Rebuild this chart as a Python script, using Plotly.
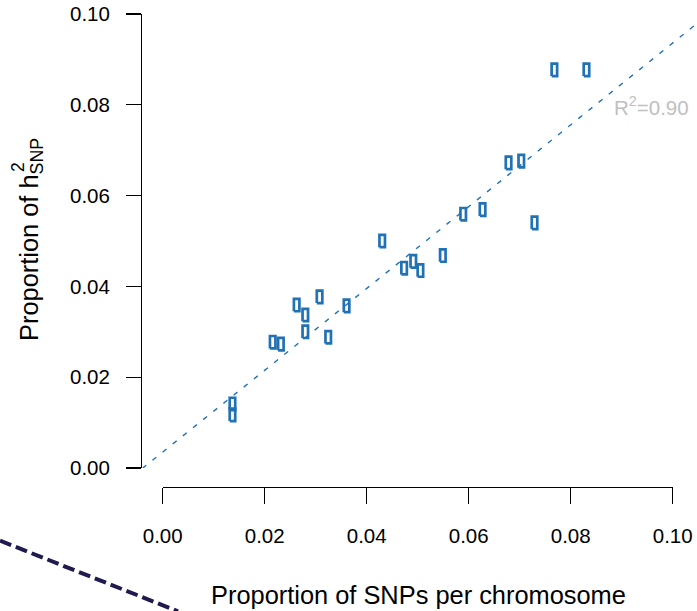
import plotly.graph_objects as go

# ---------------- data ----------------
snp_prop = [0.0137, 0.0137, 0.0216, 0.0232, 0.0263, 0.0280, 0.0280, 0.0308,
            0.0325, 0.0361, 0.0431, 0.0474, 0.0492, 0.0506, 0.0550, 0.0590,
            0.0628, 0.0679, 0.0704, 0.0730, 0.0769, 0.0832]
h2_prop = [0.0141, 0.0117, 0.0277, 0.0273, 0.0359, 0.0337, 0.0300, 0.0377,
           0.0288, 0.0357, 0.0500, 0.0440, 0.0455, 0.0435, 0.0468, 0.0559,
           0.0569, 0.0672, 0.0676, 0.0540, 0.0877, 0.0877]
fit_intercept = 0.0035
fit_slope = 0.90
r2_text = "R<sup>2</sup>=0.90"
tick_vals = [0.00, 0.02, 0.04, 0.06, 0.08, 0.10]
tick_text = ["0.00", "0.02", "0.04", "0.06", "0.08", "0.10"]
x_title = "Proportion of SNPs per chromosome"
y_title = "Proportion of h<sub>SNP</sub>"
y_title_sup = "2"
# fragment of a neighbouring panel's dashed line (figure-pixel frame)
fragment_x = [0, 178]
fragment_y = [540.7, 611.3]

# ---------------- styling ----------------
W, H = 697, 611
FONT = "Liberation Sans, Arial, Helvetica, sans-serif"
BLUE = "#2171B5"
X_RANGE = [-0.004, 0.1049]
Y_RANGE = [0.0, 0.1]


def px(x):
    return x / W


def py(y):
    return 1 - y / H


hx, hy = 0.00054, 0.00137  # half size of open rectangles (data units)
rx, ry = [], []
for x, y in zip(snp_prop, h2_prop):
    rx += [x - hx, x + hx, x + hx, x - hx, x - hx, None]
    ry += [y - hy, y - hy, y + hy, y + hy, y - hy, None]

fit_x = X_RANGE
fit_y = [fit_intercept + fit_slope * v for v in fit_x]

fig = go.Figure()
fig.add_trace(go.Scatter(x=fit_x, y=fit_y, mode="lines",
                         line=dict(color=BLUE, width=1.4, dash="5px,8px"),
                         hoverinfo="skip", showlegend=False))
fig.add_trace(go.Scatter(x=rx, y=ry, mode="lines",
                         line=dict(color=BLUE, width=2.7),
                         hoverinfo="skip", showlegend=False))
# helper trace so the R-style bottom axis is drawn
fig.add_trace(go.Scatter(x=[tick_vals[0], tick_vals[-1]], y=[None, None],
                         xaxis="x3", yaxis="y", mode="markers",
                         hoverinfo="skip", showlegend=False))
# fragment line in full-figure overlay
fig.add_trace(go.Scatter(x=fragment_x, y=fragment_y, xaxis="x2", yaxis="y2",
                         mode="lines",
                         line=dict(color="#1f1b4e", width=4, dash="12px,5px"),
                         hoverinfo="skip", showlegend=False))

tickfont = dict(family=FONT, size=20.5, color="black")

fig.update_layout(
    width=W, height=H,
    margin=dict(l=0, r=0, t=0, b=0, autoexpand=False),
    paper_bgcolor="white", plot_bgcolor="rgba(0,0,0,0)",
    xaxis=dict(domain=[px(142.3), 1.0], range=X_RANGE, visible=False,
               anchor="y", automargin=False),
    yaxis=dict(domain=[py(468), py(14)], range=Y_RANGE, anchor="x",
               showline=True, linecolor="black", linewidth=1.3,
               ticks="outside", ticklen=15, tickwidth=1.3, tickcolor="black",
               tickvals=tick_vals, ticktext=tick_text, tickfont=tickfont,
               showgrid=False, zeroline=False, ticklabelstandoff=12,
               automargin=False),
    xaxis3=dict(domain=[px(162.7), px(672.7)], range=[0, 0.1],
                anchor="free", position=py(486.7),
                showline=True, linecolor="black", linewidth=1.3,
                ticks="outside", ticklen=16, tickwidth=1.3, tickcolor="black",
                tickvals=tick_vals, ticktext=tick_text, tickfont=tickfont,
                showgrid=False, zeroline=False, ticklabelstandoff=14,
                automargin=False),
    xaxis2=dict(domain=[0, 1], range=[0, W], visible=False, anchor="y2",
                automargin=False),
    yaxis2=dict(domain=[0, 1], range=[H, 0], visible=False, anchor="x2",
                automargin=False),
    annotations=[
        dict(text=x_title, xref="paper", yref="paper", x=px(418), y=py(595),
             xanchor="center", yanchor="middle", showarrow=False,
             font=dict(family=FONT, size=25.4, color="black")),
        dict(text=y_title, xref="paper", yref="paper", x=px(31), y=py(240),
             xanchor="center", yanchor="middle", showarrow=False,
             textangle=-90, font=dict(family=FONT, size=25.4, color="black")),
        dict(text=y_title_sup, xref="paper", yref="paper", x=px(18), y=py(167),
             xanchor="center", yanchor="middle", showarrow=False,
             textangle=-90, font=dict(family=FONT, size=17.5, color="black")),
        dict(text=r2_text, xref="paper", yref="paper", x=px(612), y=py(106),
             xanchor="left", yanchor="middle", showarrow=False,
             font=dict(family=FONT, size=20.5, color="#c0c0c0")),
    ],
)

fig.write_html("out.html",
               config={"displayModeBar": False, "staticPlot": True},
               post_script=["document.body.style.margin='0';"
                            "document.body.style.overflow='hidden';"])
